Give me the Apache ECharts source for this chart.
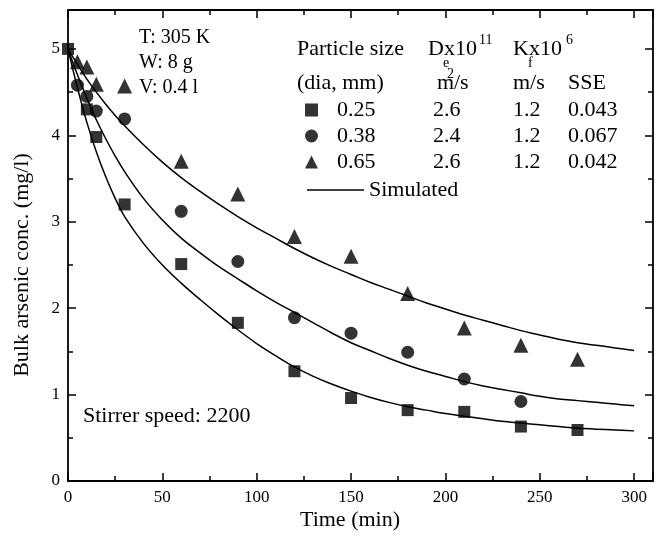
<!DOCTYPE html>
<html><head><meta charset="utf-8">
<script src="https://cdn.jsdelivr.net/npm/echarts@6/dist/echarts.min.js"></script>
<style>html,body{margin:0;padding:0;background:#fff}#c{width:663px;height:536px}</style>
</head><body><div id="c"></div>
<script>
// ---- data ----
const sizes = ['0.25', '0.38', '0.65'];
const deVals = ['2.6', '2.4', '2.6'];
const kfVals = ['1.2', '1.2', '1.2'];
const sseVals = ['0.043', '0.067', '0.042'];

const tSq = [0, 10, 15, 30, 60, 90, 120, 150, 180, 210, 240, 270];
const cSq = [5.0, 4.30, 3.98, 3.20, 2.51, 1.83, 1.27, 0.96, 0.82, 0.80, 0.63, 0.59];
const tCi = [5, 10, 15, 30, 60, 90, 120, 150, 180, 210, 240];
const cCi = [4.58, 4.45, 4.28, 4.19, 3.12, 2.54, 1.89, 1.71, 1.49, 1.18, 0.92];
const tTr = [5, 10, 15, 30, 60, 90, 120, 150, 180, 210, 240, 270];
const cTr = [4.85, 4.79, 4.59, 4.57, 3.70, 3.32, 2.83, 2.60, 2.17, 1.77, 1.57, 1.41];

const simT = [0, 5, 10, 15, 20, 25, 30, 40, 50, 60, 70, 80, 90, 100, 110, 120, 130, 140, 150, 160, 170, 180, 190, 200, 210, 220, 230, 240, 250, 260, 270, 280, 290, 300];
const sim025 = [5.00, 4.55, 4.15, 3.81, 3.52, 3.27, 3.06, 2.75, 2.50, 2.29, 2.10, 1.92, 1.75, 1.59, 1.45, 1.32, 1.21, 1.12, 1.04, 0.97, 0.91, 0.86, 0.82, 0.78, 0.75, 0.72, 0.69, 0.67, 0.65, 0.63, 0.61, 0.60, 0.59, 0.58];
const sim038 = [5.00, 4.70, 4.43, 4.18, 3.96, 3.76, 3.58, 3.27, 3.02, 2.81, 2.64, 2.48, 2.34, 2.20, 2.07, 1.95, 1.83, 1.71, 1.60, 1.51, 1.42, 1.34, 1.27, 1.21, 1.15, 1.10, 1.06, 1.02, 0.98, 0.95, 0.93, 0.91, 0.89, 0.87];
const sim065 = [5.00, 4.82, 4.65, 4.50, 4.36, 4.23, 4.11, 3.89, 3.69, 3.51, 3.35, 3.20, 3.06, 2.93, 2.81, 2.69, 2.58, 2.48, 2.39, 2.30, 2.22, 2.14, 2.06, 1.99, 1.92, 1.86, 1.80, 1.74, 1.69, 1.64, 1.60, 1.57, 1.54, 1.51];

const xTicks = [0, 50, 100, 150, 200, 250, 300];
const yTicks = [0, 1, 2, 3, 4, 5];

// ---- chart ----
const zip = (a, b) => a.map((v, i) => [v, b[i]]);
const FONT = '"Liberation Serif", "DejaVu Serif", serif';
const chart = echarts.init(document.getElementById('c'), null, {renderer: 'canvas'});

function makeAxis(extra) {
  const ax = {
    type: 'value',
    axisLine: {show: true, onZero: false, lineStyle: {color: '#000', width: 1.8}},
    axisTick: {show: true, inside: true, length: 8, lineStyle: {color: '#000', width: 1.5}},
    minorTick: {show: true, splitNumber: 2, length: 5, lineStyle: {color: '#000', width: 1.5}},
    splitLine: {show: false},
    minorSplitLine: {show: false}
  };
  for (const k in extra) ax[k] = extra[k];
  return ax;
}

function lineSeries(data) {
  return {type: 'line', data: zip(simT, data), smooth: 0.4, symbol: 'none', silent: true,
    lineStyle: {color: '#000', width: 1.5}, z: 1};
}
function scatterSeries(name, t, c, sym, size) {
  return {type: 'scatter', name: name, data: zip(t, c), symbol: sym, symbolSize: size,
    itemStyle: {color: '#000'}, z: 3};
}
function txt(x, y, s, size) {
  return {type: 'text', x: x, y: y, style: {text: s, font: size + 'px ' + FONT, fill: '#000', verticalAlign: 'middle', align: 'left'}};
}

const option = {
  animation: false,
  backgroundColor: '#fff',
  grid: {left: 68, right: 10, top: 10, bottom: 55},
  xAxis: [
    makeAxis({min: 0, max: 310, interval: 50, position: 'bottom',
      axisLabel: {color: '#000', fontFamily: FONT, fontSize: 17, margin: 8,
        formatter: v => xTicks.includes(v) ? String(v) : ''}}),
    makeAxis({min: 0, max: 310, interval: 50, position: 'top', axisLabel: {show: false}})
  ],
  yAxis: [
    makeAxis({min: 0, max: 5.45, interval: 1, position: 'left',
      axisLabel: {color: '#000', fontFamily: FONT, fontSize: 17, margin: 8,
        formatter: v => yTicks.includes(v) ? String(v) : ''}}),
    makeAxis({min: 0, max: 5.45, interval: 1, position: 'right', axisLabel: {show: false}})
  ],
  legend: [
    {
      data: [
        {name: sizes[0], icon: 'rect'},
        {name: sizes[1], icon: 'circle'},
        {name: sizes[2], icon: 'triangle'}
      ],
      orient: 'vertical', left: 300, top: 94, itemWidth: 13, itemHeight: 13, itemGap: 4,
      selectedMode: false,
      textStyle: {color: '#000', fontFamily: FONT, fontSize: 22,
        rich: {
          p: {width: 14, fontFamily: FONT, fontSize: 22},
          a: {width: 96, fontFamily: FONT, fontSize: 22},
          b: {width: 80, fontFamily: FONT, fontSize: 22},
          c: {width: 55, fontFamily: FONT, fontSize: 22},
          d: {fontFamily: FONT, fontSize: 22}
        }},
      formatter: function (name) {
        const i = sizes.indexOf(name);
        return '{p| }{a|' + sizes[i] + '}{b|' + deVals[i] + '}{c|' + kfVals[i] + '}{d|' + sseVals[i] + '}';
      }
    },
    {
      data: [{name: 'Simulated', icon: 'path://M0,0 L100,0 L100,3 L0,3 Z'}],
      left: 302, top: 174, itemWidth: 57, itemHeight: 2, selectedMode: false,
      textStyle: {color: '#000', fontFamily: FONT, fontSize: 22}
    }
  ],
  series: [
    Object.assign(lineSeries(sim025), {name: 'Simulated', itemStyle: {color: '#000'}}),
    lineSeries(sim038),
    lineSeries(sim065),
    scatterSeries(sizes[0], tSq, cSq, 'rect', 12),
    scatterSeries(sizes[1], tCi, cCi, 'circle', 13),
    scatterSeries(sizes[2], tTr, cTr, 'triangle', 15)
  ],
  graphic: [
    txt(139, 38, 'T: 305 K', 20),
    txt(139, 63, 'W: 8 g', 20),
    txt(139, 88, 'V: 0.4 l', 20),
    txt(297, 49, 'Particle size', 22),
    txt(428, 49, 'D', 22),
    txt(443, 63, 'e', 14),
    txt(444, 49, 'x10', 22),
    txt(479, 40, '11', 14),
    txt(513, 49, 'K', 22),
    txt(528, 63, 'f', 14),
    txt(529, 49, 'x10', 22),
    txt(566, 40, '6', 14),
    txt(297, 83, '(dia, mm)', 22),
    txt(437, 83, 'm', 22),
    txt(447, 74, '2', 14),
    txt(454, 83, '/s', 22),
    txt(513, 83, 'm/s', 22),
    txt(568, 83, 'SSE', 22),
    txt(83, 416, 'Stirrer speed: 2200', 22),
    {type: 'text', x: 350, y: 520, style: {text: 'Time (min)', font: '22px ' + FONT, fill: '#000', align: 'center', verticalAlign: 'middle'}},
    {type: 'text', x: 22, y: 265, rotation: Math.PI / 2,
      style: {text: 'Bulk arsenic conc. (mg/l)', font: '22px ' + FONT, fill: '#000', align: 'center', verticalAlign: 'middle'}}
  ]
};
chart.setOption(option);
</script></body></html>
